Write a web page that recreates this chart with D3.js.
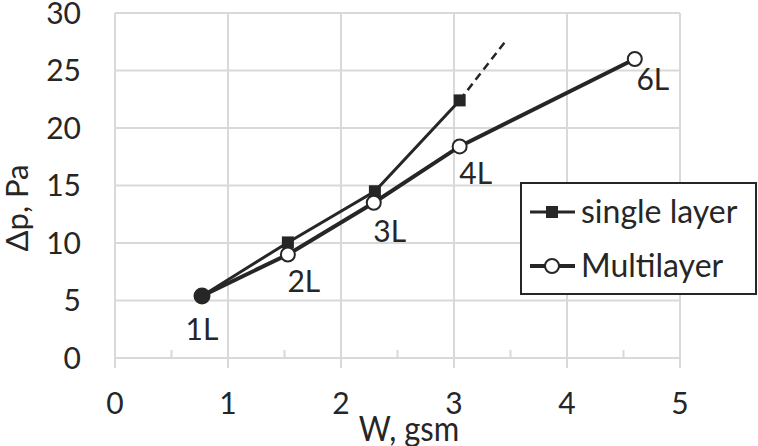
<!DOCTYPE html>
<html>
<head>
<meta charset="utf-8">
<script src="https://cdn.jsdelivr.net/npm/d3@7"></script>
<style>
body { margin: 0; background: #fff; }
text { font-family: Lato, "Open Sans", sans-serif; fill: #262626; }
</style>
</head>
<body>
<div id="chart"></div>
<script>
// data
let singleW = [0.77, 1.53, 2.30, 3.05];
let singleP = [5.4, 10.05, 14.5, 22.4];
let trendW = [3.05, 3.46];
let trendP = [22.4, 27.6];
let multiW = [0.77, 1.53, 2.29, 3.05, 4.6];
let multiP = [5.4, 9.0, 13.5, 18.4, 26.0];
let multiLabels = ["1L", "2L", "3L", "4L", "6L"];
let xTicks = [0, 1, 2, 3, 4, 5];
let xMinor = [0.5, 1.5, 2.5, 3.5, 4.5];
let yTicks = [0, 5, 10, 15, 20, 25, 30];
let legendNames = ["single layer", "Multilayer"];

let w = 758;
let h = 446;
let ink = "#262626";
let grid = "#d9d9d9";

let svg = d3.select("#chart")
    .append("svg")
    .attr("width", w)
    .attr("height", h);

let x = d3.scaleLinear().domain([0, 5]).range([115, 680]);
let y = d3.scaleLinear().domain([0, 30]).range([358, 13]);

// gridlines
svg.selectAll("line.vgrid")
    .data(xTicks)
    .enter()
    .append("line")
    .attr("x1", d => x(d))
    .attr("x2", d => x(d))
    .attr("y1", y(30))
    .attr("y2", y(0) + 10)
    .attr("stroke", grid)
    .attr("stroke-width", 2);

svg.selectAll("line.hgrid")
    .data(yTicks)
    .enter()
    .append("line")
    .attr("x1", x(0))
    .attr("x2", x(5))
    .attr("y1", d => y(d))
    .attr("y2", d => y(d))
    .attr("stroke", grid)
    .attr("stroke-width", 2);

// minor ticks on x axis
svg.selectAll("line.minor")
    .data(xMinor)
    .enter()
    .append("line")
    .attr("x1", d => x(d))
    .attr("x2", d => x(d))
    .attr("y1", y(0))
    .attr("y2", y(0) - 8)
    .attr("stroke", grid)
    .attr("stroke-width", 2);

// tick labels
svg.selectAll("text.xt")
    .data(xTicks)
    .enter()
    .append("text")
    .text(d => d)
    .attr("x", d => x(d))
    .attr("y", 414)
    .attr("text-anchor", "middle")
    .attr("font-size", "30px");

svg.selectAll("text.yt")
    .data(yTicks)
    .enter()
    .append("text")
    .text(d => d)
    .attr("x", 81)
    .attr("y", d => y(d))
    .attr("dy", "0.36em")
    .attr("text-anchor", "end")
    .attr("font-size", "30px");

// axis titles
svg.append("text")
    .text("W, gsm")
    .attr("transform", "translate(409,441) scale(1,1.12)")
    .attr("text-anchor", "middle")
    .attr("font-size", "31px");

svg.append("text")
    .text("\u0394p, Pa")
    .attr("transform", "translate(28,208) rotate(-90)")
    .attr("text-anchor", "middle")
    .attr("font-size", "31px");

let line = d3.line()
    .x(d => x(d[0]))
    .y(d => y(d[1]));

let single = d3.zip(singleW, singleP);
let multi = d3.zip(multiW, multiP);
let trend = d3.zip(trendW, trendP);

svg.append("path")
    .datum(trend)
    .attr("d", line)
    .attr("fill", "none")
    .attr("stroke", ink)
    .attr("stroke-width", 2.5)
    .attr("stroke-dasharray", "8,5");

svg.append("path")
    .datum(single)
    .attr("d", line)
    .attr("fill", "none")
    .attr("stroke", ink)
    .attr("stroke-width", 3);

svg.append("path")
    .datum(multi)
    .attr("d", line)
    .attr("fill", "none")
    .attr("stroke", ink)
    .attr("stroke-width", 4);

// square markers (skip the shared start point)
svg.selectAll("rect.sq")
    .data(single.slice(1))
    .enter()
    .append("rect")
    .attr("x", d => x(d[0]) - 6)
    .attr("y", d => y(d[1]) - 6)
    .attr("width", 12)
    .attr("height", 12)
    .attr("fill", ink);

// open circle markers
svg.selectAll("circle.mc")
    .data(multi.slice(1))
    .enter()
    .append("circle")
    .attr("cx", d => x(d[0]))
    .attr("cy", d => y(d[1]))
    .attr("r", 7)
    .attr("fill", "#fff")
    .attr("stroke", ink)
    .attr("stroke-width", 2);

// shared start point
svg.append("circle")
    .attr("cx", x(multiW[0]))
    .attr("cy", y(multiP[0]))
    .attr("r", 8.5)
    .attr("fill", ink);

// point labels, placed below right of each point
let labDx = [0, 16, 16, 16, 18];
let labDy = [44, 37, 39, 38, 31];
svg.selectAll("text.pl")
    .data(multi)
    .enter()
    .append("text")
    .text((d, i) => multiLabels[i])
    .attr("x", (d, i) => x(d[0]) + labDx[i])
    .attr("y", (d, i) => y(d[1]) + labDy[i])
    .attr("text-anchor", "middle")
    .attr("font-size", "30px");

// legend
let lg = svg.append("g");
lg.append("rect")
    .attr("x", 521)
    .attr("y", 183)
    .attr("width", 235)
    .attr("height", 111)
    .attr("fill", "#fff")
    .attr("stroke", ink)
    .attr("stroke-width", 2);

let rows = lg.selectAll("g.row")
    .data(legendNames)
    .enter()
    .append("g")
    .attr("transform", (d, i) => "translate(0," + (212 + i * 54) + ")");

rows.append("line")
    .attr("x1", 530)
    .attr("x2", 575)
    .attr("y1", 0)
    .attr("y2", 0)
    .attr("stroke", ink)
    .attr("stroke-width", (d, i) => i == 0 ? 3 : 4);

rows.filter((d, i) => i == 0)
    .append("rect")
    .attr("x", 546)
    .attr("y", -6)
    .attr("width", 12)
    .attr("height", 12)
    .attr("fill", ink);

rows.filter((d, i) => i == 1)
    .append("circle")
    .attr("cx", 552)
    .attr("cy", 0)
    .attr("r", 7)
    .attr("fill", "#fff")
    .attr("stroke", ink)
    .attr("stroke-width", 2);

rows.append("text")
    .text(d => d)
    .attr("x", 581)
    .attr("y", 0)
    .attr("dy", "0.33em")
    .attr("font-size", "32px");
</script>
</body>
</html>
